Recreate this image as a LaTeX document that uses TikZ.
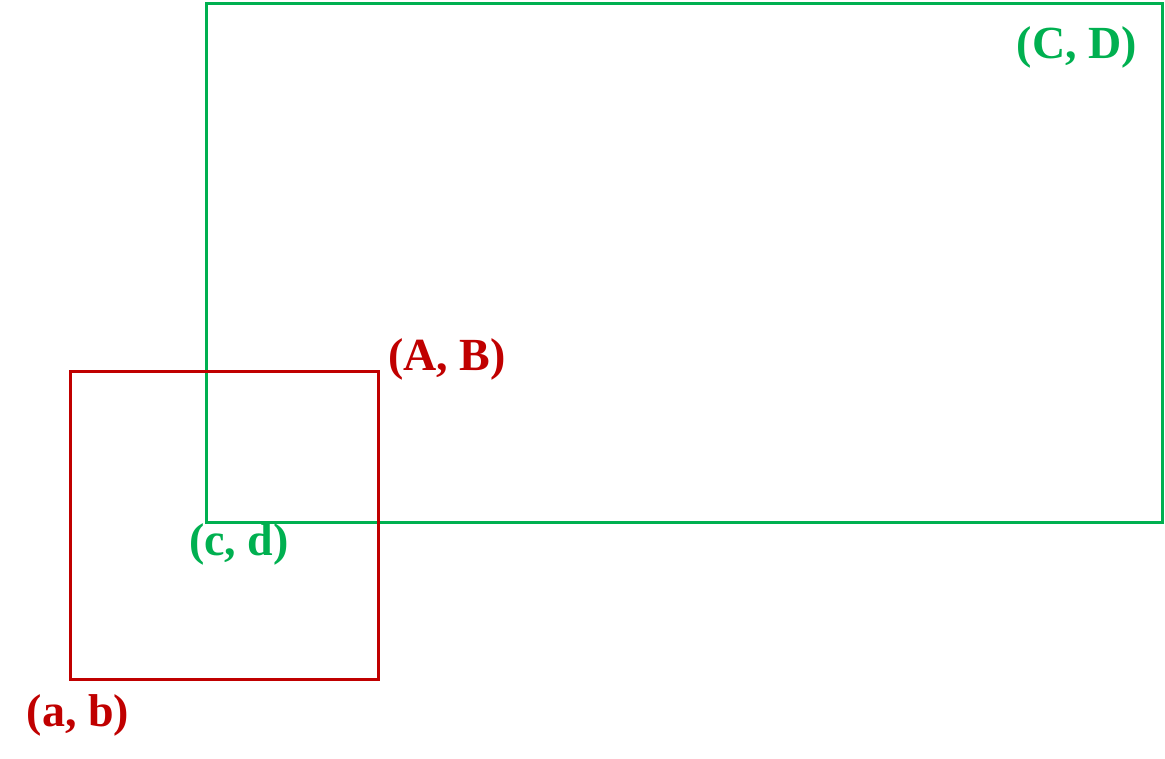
\documentclass[tikz,border=0pt]{standalone}
\usepackage{fontspec}
\setmainfont{Liberation Serif}
\definecolor{myred}{HTML}{C00000}
\definecolor{mygreen}{HTML}{00B050}
\begin{document}
\begin{tikzpicture}[x=1pt,y=1pt,
  lbl/.style={inner sep=0pt,font=\fontsize{46}{50}\selectfont\bfseries},
  box/.style={line width=3pt}]
\useasboundingbox (0,0) rectangle (1165,758);
\draw[box,mygreen] (206,235) coordinate (cd) rectangle (1162,754) coordinate (CD);
\draw[box,myred] (70,78) coordinate (ab) rectangle (378,386) coordinate (AB);
\node[lbl,text=myred] (lAB) at (447,399) {(A, B)};
\node[lbl,text=myred] (lab) at (78,43) {(a, b)};
\node[lbl,text=mygreen] (lCD) at (1077,711) {(C, D)};
\node[lbl,text=mygreen] (lcd) at (239,214) {(c, d)};
\end{tikzpicture}
\end{document}
